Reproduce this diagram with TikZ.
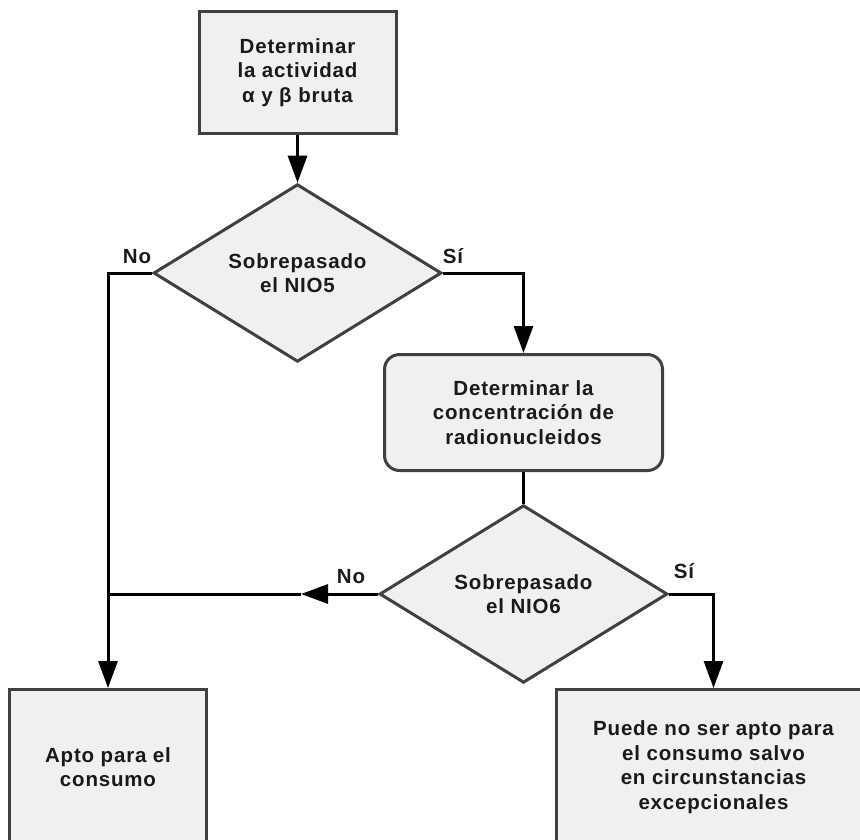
\documentclass[tikz,border=0pt]{standalone}
\usepackage{fontspec}
\setmainfont{Liberation Sans}[LetterSpace=4]
\usetikzlibrary{shapes.geometric,arrows.meta}
\definecolor{boxfill}{HTML}{F0F0F0}
\definecolor{boxline}{HTML}{404040}
\definecolor{txt}{HTML}{1A1A1A}
\begin{document}
\begin{tikzpicture}[x=1pt,y=-1pt,
  every node/.style={font=\fontsize{20.5}{24.5}\selectfont\bfseries, align=center, text=txt},
  stepbox/.style={rectangle, draw=boxline, fill=boxfill, line width=3pt, inner sep=0pt},
  roundbox/.style={stepbox, rounded corners=15pt},
  decision/.style={diamond, draw=boxline, fill=boxfill, line width=3pt, inner sep=0pt, minimum width=288pt, minimum height=163pt},
  conn/.style={line width=3pt, draw=black},
  arr/.style={conn, -{Triangle[length=27pt,width=19pt]}},
  lbl/.style={inner sep=0pt}]
\useasboundingbox (0,0) rectangle (860,839);
\clip (0,0) rectangle (860,839);

\node[stepbox, minimum width=197pt, minimum height=122pt] (b1) at (297.5,72.5)
  {Determinar\\la actividad\\α y β bruta};
\node[decision] (d1) at (297.5,273) {Sobrepasado\\el NIO5};
\node[roundbox, minimum width=278pt, minimum height=116pt] (rb) at (523.5,412.5)
  {Determinar la\\concentración de\\radionucleidos};
\node[decision] (d2) at (523.5,594) {Sobrepasado\\el NIO6};
\node[stepbox, minimum width=197pt, minimum height=155pt] (apto) at (108,767)
  {Apto para el\\consumo};
\node[stepbox, minimum width=315pt, minimum height=155pt] (nap) at (713.5,767)
  {Puede no ser apto para\\el consumo salvo\\en circunstancias\\excepcionales};

\node[lbl] (no1) at (137,257) {No};
\node[lbl] (si1) at (453,256) {Sí};
\node[lbl] (no2) at (351,577) {No};
\node[lbl] (si2) at (684,571) {Sí};

\coordinate (mid) at (301,594);

\draw[arr] (b1.south) -- (d1.north);
\draw[arr] (d1.west) -| (apto.north);
\draw[arr] (d1.east) -| (rb.north);
\draw[conn] (rb.south) -- (d2.north);
\draw[arr] (d2.west) -- (mid);
\draw[conn] (mid) -- (d2.west -| apto.north);
\draw[arr] (d2.east) -| (nap.north);
\end{tikzpicture}
\end{document}
